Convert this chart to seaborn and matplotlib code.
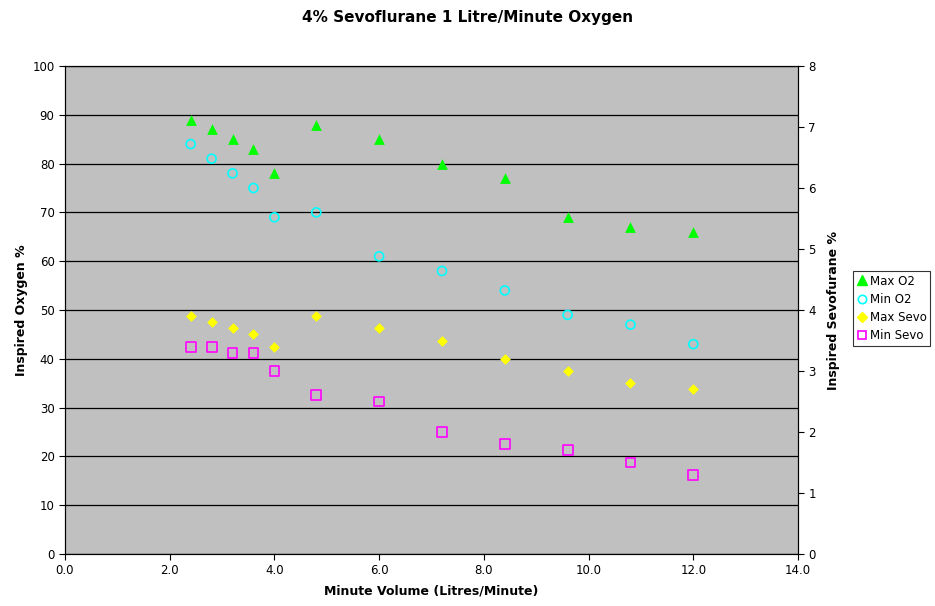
import numpy as np
import pandas as pd
import matplotlib
matplotlib.use('Agg')
import matplotlib.pyplot as plt
import seaborn as sns
from matplotlib.lines import Line2D

minute_volume = [2.4, 2.8, 3.2, 3.6, 4.0, 4.8, 6.0, 7.2, 8.4, 9.6, 10.8, 12.0]
max_o2 = [89, 87, 85, 83, 78, 88, 85, 80, 77, 69, 67, 66]
min_o2 = [84, 81, 78, 75, 69, 70, 61, 58, 54, 49, 47, 43]
max_sevo = [3.9, 3.8, 3.7, 3.6, 3.4, 3.9, 3.7, 3.5, 3.2, 3.0, 2.8, 2.7]
min_sevo = [3.4, 3.4, 3.3, 3.3, 3.0, 2.6, 2.5, 2.0, 1.8, 1.7, 1.5, 1.3]

o2_df = pd.DataFrame({'mv': minute_volume * 2,
                      'val': max_o2 + min_o2,
                      'series': ['Max O2'] * 12 + ['Min O2'] * 12})
sevo_df = pd.DataFrame({'mv': minute_volume * 2,
                        'val': max_sevo + min_sevo,
                        'series': ['Max Sevo'] * 12 + ['Min Sevo'] * 12})

sns.set_style('white')
plt.rcParams['font.family'] = ['DejaVu Sans']
plt.rcParams['text.color'] = 'black'
plt.rcParams['axes.labelcolor'] = 'black'

fig = plt.figure(figsize=(9.35, 6.06), dpi=100)
ax1 = fig.add_axes([65/935, 1-554/606, (798-65)/935, (554-66)/606])
ax1.set_facecolor('#C0C0C0')
ax2 = ax1.twinx()

# left axis: oxygen
sns.scatterplot(data=o2_df[o2_df.series == 'Max O2'], x='mv', y='val', ax=ax1,
                marker='^', color='#00FF00', s=60, edgecolor='#00FF00', linewidth=0, zorder=3)
sns.scatterplot(data=o2_df[o2_df.series == 'Min O2'], x='mv', y='val', ax=ax1,
                marker='o', facecolor='none', edgecolor='#00FFFF', s=42, linewidth=1.2, zorder=3)
# right axis: sevo
sns.scatterplot(data=sevo_df[sevo_df.series == 'Max Sevo'], x='mv', y='val', ax=ax2,
                marker='D', color='#FFFF00', s=30, edgecolor='#FFFF00', linewidth=0, zorder=3)
sns.scatterplot(data=sevo_df[sevo_df.series == 'Min Sevo'], x='mv', y='val', ax=ax2,
                marker='s', facecolor='none', edgecolor='#FF00FF', s=50, linewidth=1.2, zorder=3)

ax1.set_xlim(0, 14)
ax1.set_ylim(0, 100)
ax2.set_ylim(0, 8)
ax1.set_xticks(np.arange(0, 15, 2))
ax1.set_xticklabels([f'{v:.1f}' for v in np.arange(0, 15, 2)])
ax1.set_yticks(np.arange(0, 101, 10))
ax2.set_yticks(np.arange(0, 9, 1))
ax1.yaxis.grid(True, color='black', linewidth=0.9)
ax1.set_axisbelow(True)

for ax in (ax1, ax2):
    for sp in ax.spines.values():
        sp.set_color('black')
        sp.set_linewidth(0.8)
    ax.tick_params(labelsize=8.5, length=4, width=0.8, colors='black', direction='out')
ax1.tick_params(axis='x', bottom=True)
ax1.tick_params(axis='y', left=True)
ax2.tick_params(axis='y', right=True)

ax1.set_xlabel('Minute Volume (Litres/Minute)', fontsize=9, fontweight='bold', labelpad=5)
ax1.set_ylabel('Inspired Oxygen %', fontsize=9, fontweight='bold', labelpad=3)
ax2.set_ylabel('Inspired Sevofurane %', fontsize=9, fontweight='bold', labelpad=8)
fig.suptitle('4% Sevoflurane 1 Litre/Minute Oxygen', fontsize=11, fontweight='bold', y=0.983)

handles = [
    Line2D([], [], marker='^', linestyle='none', color='#00FF00', markersize=7),
    Line2D([], [], marker='o', linestyle='none', markerfacecolor='none', markeredgecolor='#00FFFF', markersize=6, markeredgewidth=1.2),
    Line2D([], [], marker='D', linestyle='none', color='#FFFF00', markersize=5.5),
    Line2D([], [], marker='s', linestyle='none', markerfacecolor='none', markeredgecolor='#FF00FF', markersize=6, markeredgewidth=1.2),
]
leg = fig.legend(handles, ['Max O2', 'Min O2', 'Max Sevo', 'Min Sevo'],
                 loc='upper left', bbox_to_anchor=(853/935, 1-271/606),
                 fontsize=8.5, frameon=True, fancybox=False, edgecolor='black',
                 handletextpad=0.1, borderpad=0.3, labelspacing=0.45, handlelength=1.0,
                 borderaxespad=0)
leg.get_frame().set_linewidth(0.8)

fig.savefig('out.png', dpi=100)
